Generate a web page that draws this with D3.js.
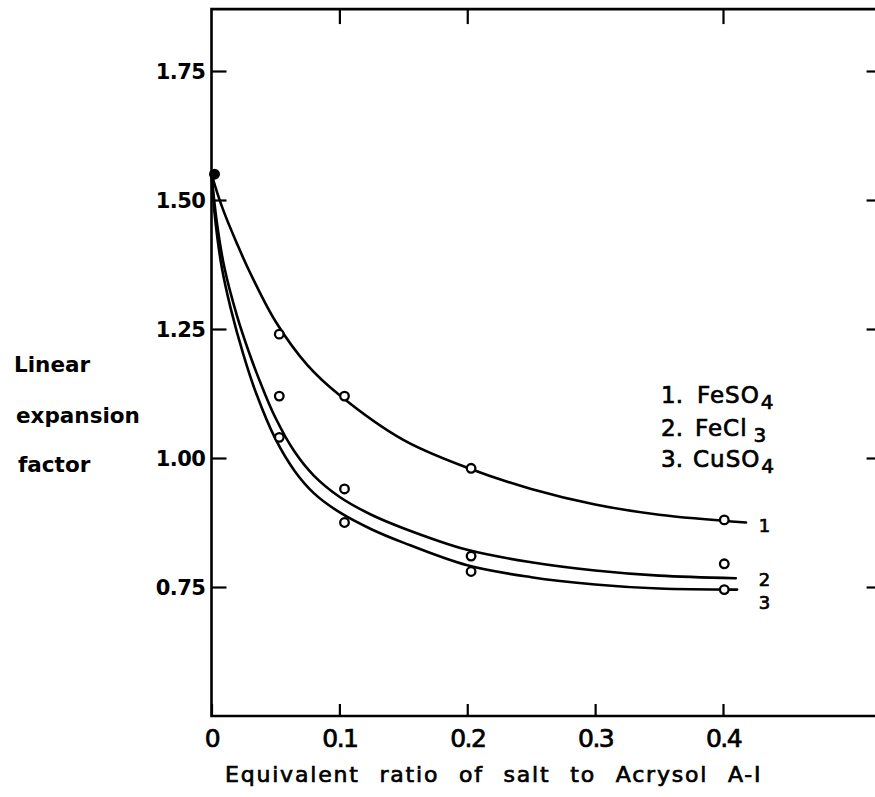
<!DOCTYPE html>
<html>
<head>
<meta charset="utf-8">
<script src="https://cdn.jsdelivr.net/npm/d3@7"></script>
<style>
  html, body { margin: 0; padding: 0; background: #fff; }
  svg { display: block; }
  text { font-family: "DejaVu Sans", sans-serif; fill: #000; }
</style>
</head>
<body>
<svg id="chart" width="875" height="797"></svg>
<script>
// ---- data ----
const xTickValues = [0, 0.1, 0.2, 0.3, 0.4];
const xTickLabels = ["0", "0.1", "0.2", "0.3", "0.4"];
const topTickValues = [0.1, 0.2, 0.4];
const yTickValues = [0.75, 1.00, 1.25, 1.50, 1.75];
const yTickLabels = ["0.75", "1.00", "1.25", "1.50", "1.75"];

const seriesNames = ["FeSO", "FeCl", "CuSO"];
const seriesSubs = ["4", "3", "4"];

// measured points (open circles)
const pointX = [0.053, 0.104, 0.203, 0.401];
const feso4Points = [1.24, 1.12, 0.98, 0.88];
const fecl3Points = [1.12, 0.94, 0.81, 0.795];
const cuso4Points = [1.04, 0.875, 0.78, 0.745];

// common starting point (filled dot)
const startX = 0;
const startY = 1.55;

// hand-drawn fitted curves
const feso4CurveX = [0, 0.005, 0.01, 0.02, 0.03, 0.05, 0.075, 0.1, 0.15, 0.2, 0.25, 0.3, 0.35, 0.418];
const feso4CurveY = [1.55, 1.51, 1.475, 1.415, 1.36, 1.265, 1.18, 1.122, 1.035, 0.981, 0.94, 0.91, 0.89, 0.875];
const fecl3CurveX = [0, 0.004, 0.01, 0.02, 0.03, 0.04, 0.05, 0.065, 0.08, 0.1, 0.125, 0.15, 0.2, 0.25, 0.3, 0.35, 0.41];
const fecl3CurveY = [1.55, 1.46, 1.37, 1.275, 1.20, 1.135, 1.078, 1.012, 0.966, 0.925, 0.89, 0.864, 0.822, 0.798, 0.782, 0.772, 0.767];
const cuso4CurveX = [0, 0.003, 0.008, 0.015, 0.025, 0.035, 0.05, 0.065, 0.08, 0.1, 0.125, 0.15, 0.2, 0.25, 0.3, 0.35, 0.411];
const cuso4CurveY = [1.55, 1.46, 1.37, 1.29, 1.20, 1.125, 1.037, 0.975, 0.932, 0.895, 0.862, 0.836, 0.792, 0.769, 0.755, 0.747, 0.745];

// ---- chart ----
const svg = d3.select("#chart");
const x = d3.scaleLinear().domain([0, 0.4]).range([211.5, 723]);
const y = d3.scaleLinear().domain([0.5, 1.75]).range([716, 71]);
const xMax = 0.524, yMax = 1.87, yMin = 0.5;

const ink = "#000";
// semi-bold look: regular face with a thin outline
const heavy = sel => sel.attr("stroke", ink).attr("stroke-width", 0.7).attr("paint-order", "stroke");

// frame (left, top, bottom; right edge is off the page)
svg.append("path")
  .attr("d", d3.line()([[x(xMax), y(yMax)], [x(0), y(yMax)], [x(0), y(yMin)], [x(xMax), y(yMin)]]))
  .attr("fill", "none").attr("stroke", ink).attr("stroke-width", 2.6);

// left axis
const leftAxis = svg.append("g").attr("transform", `translate(${x(0)},0)`)
  .call(d3.axisLeft(y).tickValues(yTickValues).tickSize(-15).tickPadding(6)
    .tickFormat((d, i) => yTickLabels[i]));
leftAxis.select(".domain").remove();
leftAxis.selectAll("line").attr("stroke", ink).attr("stroke-width", 2.2);
leftAxis.selectAll("text").attr("font-size", 21).attr("font-weight", "bold")
  .attr("font-family", "DejaVu Sans").attr("letter-spacing", -0.5).attr("dy", "0.36em");

// right axis (ticks only)
const rightAxis = svg.append("g").attr("transform", `translate(${x(xMax)},0)`)
  .call(d3.axisRight(y).tickValues(yTickValues).tickSize(-15).tickFormat(""));
rightAxis.select(".domain").remove();
rightAxis.selectAll("line").attr("stroke", ink).attr("stroke-width", 2.2);

// top axis (ticks only)
const topAxis = svg.append("g").attr("transform", `translate(0,${y(yMax)})`)
  .call(d3.axisTop(x).tickValues(topTickValues).tickSize(-15).tickFormat(""));
topAxis.select(".domain").remove();
topAxis.selectAll("line").attr("stroke", ink).attr("stroke-width", 2.2);

// bottom axis
const bottomAxis = svg.append("g").attr("transform", `translate(0,${y(yMin)})`)
  .call(d3.axisBottom(x).tickValues(xTickValues).tickSize(-12).tickPadding(13)
    .tickFormat((d, i) => xTickLabels[i]));
bottomAxis.select(".domain").remove();
bottomAxis.selectAll("line").attr("stroke", ink).attr("stroke-width", 2.2);
bottomAxis.selectAll("text").attr("font-size", 25).attr("font-family", "DejaVu Sans")
  .attr("letter-spacing", -1.5).call(heavy);

// axis titles
svg.append("text").attr("x", 225).attr("y", 782)
  .attr("font-size", 22).attr("letter-spacing", 1.8).attr("word-spacing", 11)
  .text("Equivalent ratio of salt to Acrysol A-I").call(heavy);

const yTitle = ["Linear", "expansion", "factor"];
const yTitleX = [14, 16, 18];
const yTitleY = [372, 423, 472];
svg.append("g").selectAll("text").data(yTitle).join("text")
  .attr("x", (d, i) => yTitleX[i]).attr("y", (d, i) => yTitleY[i])
  .attr("font-size", 21.5).attr("font-weight", "bold").text(d => d);

// curves
const line = d3.line().x(d => x(d[0])).y(d => y(d[1])).curve(d3.curveCatmullRom.alpha(0.5));
const curves = [
  d3.zip(feso4CurveX, feso4CurveY),
  d3.zip(fecl3CurveX, fecl3CurveY),
  d3.zip(cuso4CurveX, cuso4CurveY)
];
svg.append("g").selectAll("path").data(curves).join("path")
  .attr("d", line).attr("fill", "none").attr("stroke", ink).attr("stroke-width", 2.6)
  .attr("stroke-linejoin", "round").attr("stroke-linecap", "round");

// points
const pointSets = [feso4Points, fecl3Points, cuso4Points];
pointSets.forEach(vals => {
  svg.append("g").selectAll("circle").data(d3.zip(pointX, vals)).join("circle")
    .attr("cx", d => x(d[0])).attr("cy", d => y(d[1])).attr("r", 4.3)
    .attr("fill", "#fff").attr("stroke", ink).attr("stroke-width", 2.3);
});
svg.append("circle").attr("cx", x(startX) + 3).attr("cy", y(startY)).attr("r", 5.5).attr("fill", ink);

// curve end labels
const endLabels = ["1", "2", "3"];
const endLabelX = [0.428, 0.428, 0.428];
const endLabelY = [0.857, 0.752, 0.708];
svg.append("g").selectAll("text").data(endLabels).join("text")
  .attr("x", (d, i) => x(endLabelX[i])).attr("y", (d, i) => y(endLabelY[i]))
  .attr("font-size", 18).text(d => d).call(heavy);

// legend
const legend = svg.append("g");
const legY = [403, 436, 467];
const legNameX = [697, 695, 693];
seriesNames.forEach((name, i) => {
  legend.append("text").attr("x", 661).attr("y", legY[i]).attr("font-size", 23)
    .text((i + 1) + ".").call(heavy);
  const t = legend.append("text").attr("x", legNameX[i]).attr("y", legY[i])
    .attr("font-size", 23).attr("letter-spacing", 1).call(heavy);
  t.append("tspan").text(name);
  t.append("tspan").attr("dx", i === 1 ? 6 : 1).attr("dy", 6).attr("font-size", 20).text(seriesSubs[i]);
});
</script>
</body>
</html>
